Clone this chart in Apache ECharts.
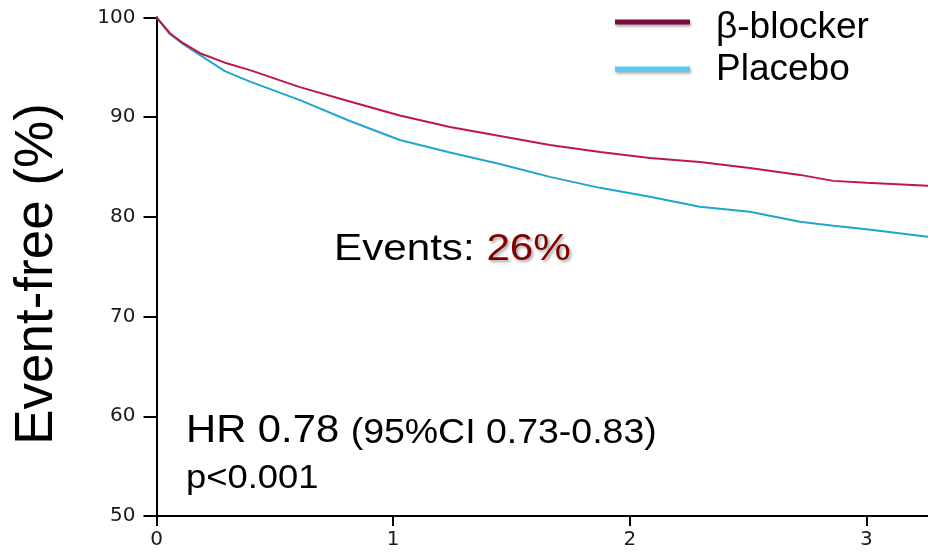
<!DOCTYPE html>
<html>
<head>
<meta charset="utf-8">
<style>
  html, body { margin: 0; padding: 0; background: #fff; }
  #chart { width: 928px; height: 554px; }
</style>
<script src="https://cdn.jsdelivr.net/npm/echarts@6/dist/echarts.min.js"></script>
</head>
<body>
<div id="chart"></div>
<script>
// Follow-up time (years) at which survival was read
const years = [0, 0.057, 0.113, 0.184, 0.289, 0.395, 0.606, 0.817, 1.028, 1.24,
               1.451, 1.662, 1.874, 2.085, 2.296, 2.507, 2.719, 2.86, 3.0, 3.26];
// Event-free survival (%)
const betaBlocker = [100, 98.4, 97.4, 96.4, 95.45, 94.7, 93.0, 91.55, 90.15, 89.0,
                     88.1, 87.2, 86.5, 85.9, 85.5, 84.9, 84.2, 83.6, 83.4, 83.1];
const placebo = [100, 98.3, 97.3, 96.2, 94.6, 93.55, 91.7, 89.6, 87.7, 86.45,
                 85.3, 84.0, 82.9, 82.0, 81.0, 80.5, 79.5, 79.1, 78.75, 78.0];
const xTicks = [0, 1, 2, 3];
const seriesNames = ['β-blocker', 'Placebo'];

const pair = (xs, ys) => xs.map((x, i) => [x, ys[i]]);

const chart = echarts.init(document.getElementById('chart'), null, { renderer: 'canvas' });

const labelFont = { fontFamily: 'DejaVu Sans', fontSize: 20, color: '#1a1a1a' };
const ff = '"Liberation Sans"';

chart.setOption({
  animation: false,
  backgroundColor: '#fff',
  grid: { left: 156.5, top: 17.3, right: 0, bottom: 38 },
  xAxis: {
    type: 'value', min: 0, max: 3.26,
    axisLine: { lineStyle: { color: '#000', width: 2 } },
    axisTick: { show: true, length: 10, customValues: xTicks, lineStyle: { color: '#000', width: 2 } },
    axisLabel: Object.assign({ customValues: xTicks, margin: 14 }, labelFont),
    splitLine: { show: false }
  },
  yAxis: {
    type: 'value', min: 50, max: 100, interval: 10,
    axisLine: { show: true, lineStyle: { color: '#000', width: 2 } },
    axisTick: { show: true, length: 13, lineStyle: { color: '#000', width: 2 } },
    axisLabel: Object.assign({ margin: 21 }, labelFont),
    splitLine: { show: false }
  },
  series: [
    {
      name: seriesNames[0], type: 'line', data: pair(years, betaBlocker),
      showSymbol: false, lineStyle: { color: '#c0164a', width: 2 }, z: 3
    },
    {
      name: seriesNames[1], type: 'line', data: pair(years, placebo),
      showSymbol: false, lineStyle: { color: '#1ea6cf', width: 2 }, z: 2
    }
  ],
  graphic: [
    // y-axis title
    {
      type: 'text', x: 37, y: 274, rotation: Math.PI / 2,
      style: { text: 'Event-free (%)', font: '53px ' + ff, fill: '#000',
               align: 'center', verticalAlign: 'middle' }
    },
    // legend swatches
    {
      type: 'line', shape: { x1: 615, y1: 22, x2: 690, y2: 22 },
      style: { stroke: '#7c0a3c', lineWidth: 5, shadowColor: 'rgba(0,0,0,0.35)', shadowBlur: 3, shadowOffsetX: 1, shadowOffsetY: 2 }
    },
    {
      type: 'line', shape: { x1: 615, y1: 69, x2: 690, y2: 69 },
      style: { stroke: '#5cc8f5', lineWidth: 5, shadowColor: 'rgba(0,0,0,0.35)', shadowBlur: 3, shadowOffsetX: 1, shadowOffsetY: 2 }
    },
    {
      type: 'text', x: 716, y: 9,
      style: { text: seriesNames[0], font: '37px ' + ff, fill: '#000', verticalAlign: 'top' }
    },
    {
      type: 'text', x: 716, y: 51,
      style: { text: seriesNames[1], font: '37px ' + ff, fill: '#000', verticalAlign: 'top' }
    },
    // event rate annotation
    {
      type: 'text', x: 334, y: 231, scaleX: 1.14,
      style: {
        text: '{a|Events: }{b|26%}', verticalAlign: 'top',
        rich: {
          a: { font: '37px ' + ff, fill: '#000' },
          b: { font: '37px ' + ff, fill: '#800000',
               textShadowColor: 'rgba(0,0,0,0.35)', textShadowBlur: 3, textShadowOffsetX: 2, textShadowOffsetY: 2 }
        }
      }
    },
    // hazard ratio
    {
      type: 'text', x: 186, y: 412, scaleX: 1.07,
      style: {
        text: '{a|HR 0.78 }{b|(95%CI 0.73-0.83)}', verticalAlign: 'top',
        rich: {
          a: { font: '39px ' + ff, fill: '#000', verticalAlign: 'bottom' },
          b: { font: '35px ' + ff, fill: '#000', verticalAlign: 'bottom' }
        }
      }
    },
    {
      type: 'text', x: 186, y: 462, scaleX: 1.07,
      style: { text: 'p<0.001', font: '34px ' + ff, fill: '#000', verticalAlign: 'top' }
    }
  ]
});
</script>
</body>
</html>
